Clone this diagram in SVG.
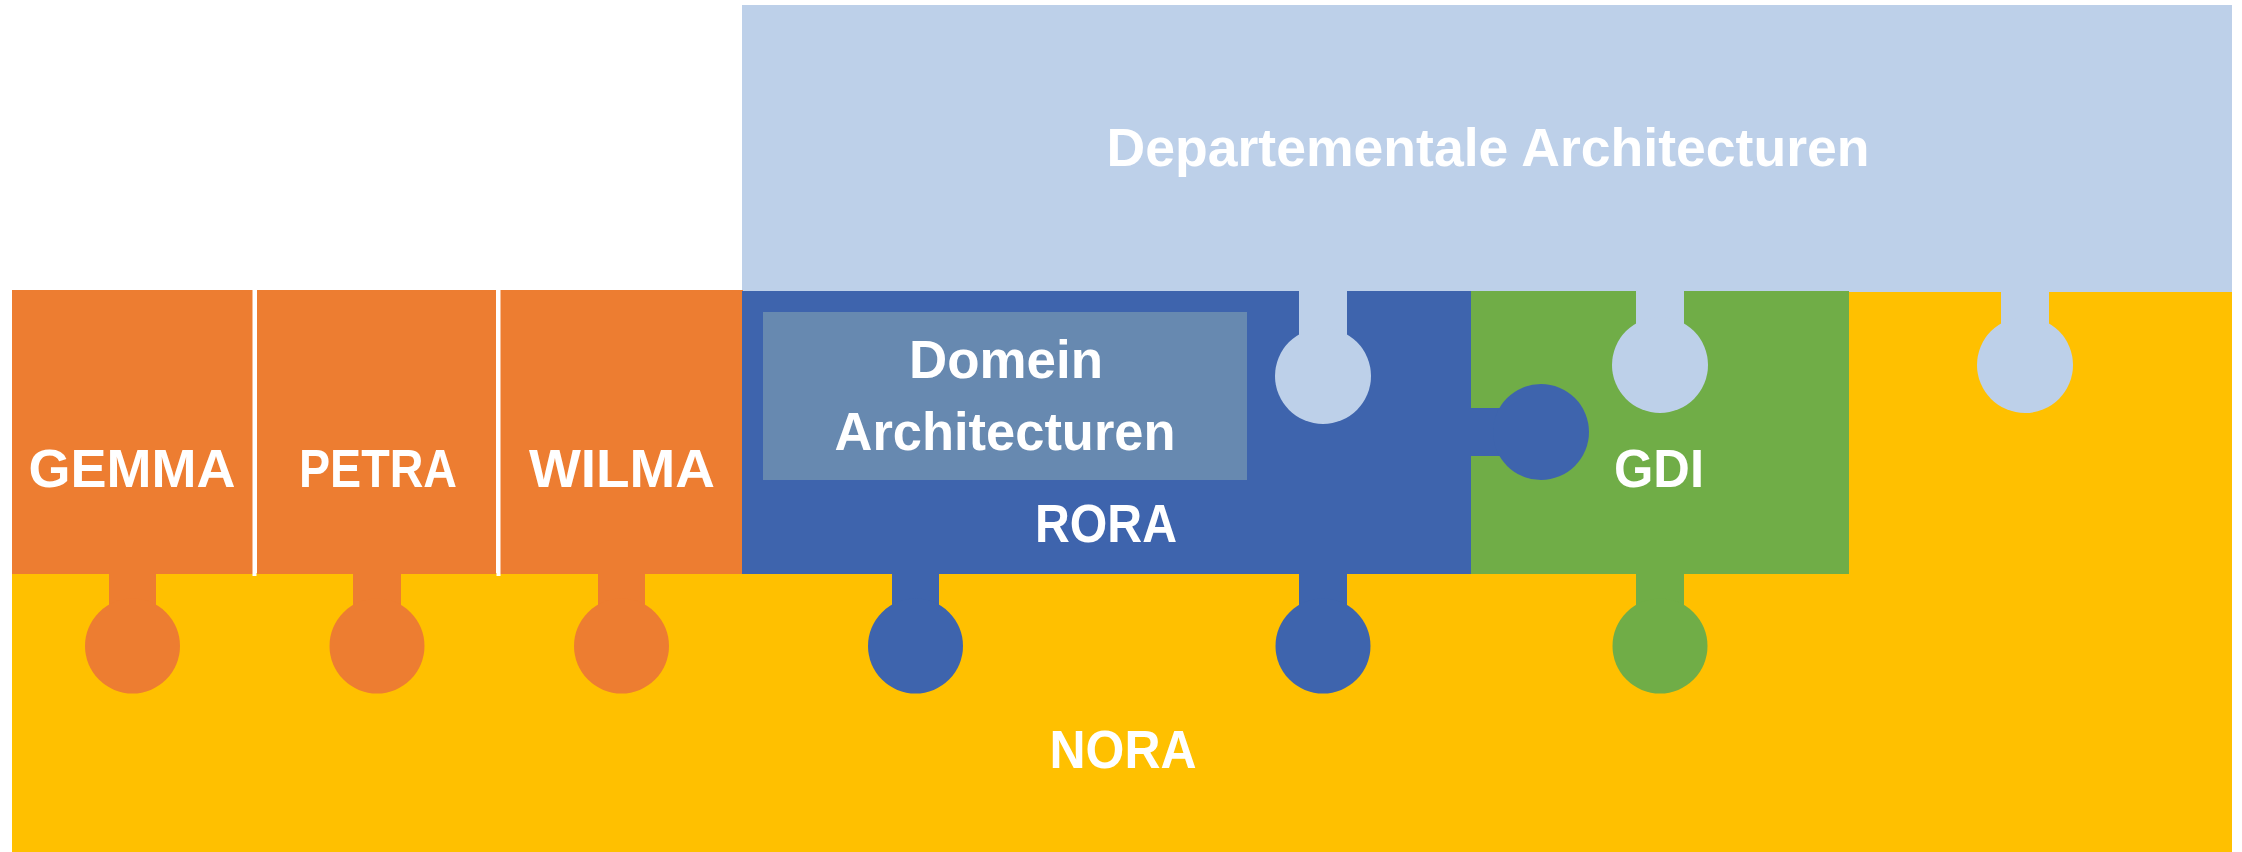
<svg xmlns="http://www.w3.org/2000/svg" width="2242" height="852" viewBox="0 0 2242 852">
<style>
.t{font-family:"Liberation Sans",Arial,sans-serif;font-weight:bold;font-size:53px;fill:#ffffff;text-anchor:middle}
.or{fill:#ED7D31}.bl{fill:#3E64AD}.gr{fill:#70AD47}.ye{fill:#FFC000}.lb{fill:#BDD0E9}.dm{fill:#6789B0}
</style>
<rect width="2242" height="852" fill="#ffffff"/>
<g id="nora">
<path class="ye" d="M12,573 H1849 V291 H2232 V852 H12 Z"/>
<text class="t" x="1123" y="768" textLength="147" lengthAdjust="spacingAndGlyphs">NORA</text>
</g>
<g id="departementale">
<rect class="lb" x="742" y="5" width="1490" height="287"/>
<text class="t" x="1488" y="166" textLength="763" lengthAdjust="spacingAndGlyphs">Departementale Architecturen</text>
</g>
<g id="gemma">
<rect class="or" x="12" y="290" width="242" height="284"/>
<text class="t" x="132" y="487" textLength="207" lengthAdjust="spacingAndGlyphs">GEMMA</text>
</g>
<g id="petra">
<rect class="or" x="257" y="290" width="239" height="284"/>
<text class="t" x="378" y="487" textLength="158" lengthAdjust="spacingAndGlyphs">PETRA</text>
</g>
<g id="wilma">
<rect class="or" x="500" y="290" width="243" height="284"/>
<text class="t" x="622" y="487" textLength="186" lengthAdjust="spacingAndGlyphs">WILMA</text>
</g>
<g id="rora">
<rect class="bl" x="742" y="291" width="729" height="283"/>
<text class="t" x="1106" y="542" textLength="142" lengthAdjust="spacingAndGlyphs">RORA</text>
</g>
<g id="domein">
<rect class="dm" x="763" y="312" width="484" height="168"/>
<text class="t" x="1006" y="378" textLength="194" lengthAdjust="spacingAndGlyphs">Domein</text>
<text class="t" x="1005" y="450" textLength="341" lengthAdjust="spacingAndGlyphs">Architecturen</text>
</g>
<g id="gdi">
<rect class="gr" x="1471" y="291" width="378" height="283"/>
<text class="t" x="1659" y="487" textLength="90" lengthAdjust="spacingAndGlyphs">GDI</text>
</g>
<g id="connectors">
<!-- tabs into NORA -->
<rect class="or" x="109" y="572" width="47" height="40"/><circle class="or" cx="132.5" cy="646" r="47.5"/>
<rect class="or" x="353" y="572" width="48" height="40"/><circle class="or" cx="377" cy="646" r="47.5"/>
<rect class="or" x="598" y="572" width="47" height="40"/><circle class="or" cx="621.5" cy="646" r="47.5"/>
<rect class="bl" x="892" y="572" width="47" height="40"/><circle class="bl" cx="915.5" cy="646" r="47.5"/>
<rect class="bl" x="1299" y="572" width="48" height="40"/><circle class="bl" cx="1323" cy="646" r="47.5"/>
<rect class="gr" x="1636" y="572" width="48" height="40"/><circle class="gr" cx="1660" cy="646" r="47.5"/>
<!-- tabs from Departementale -->
<rect class="lb" x="1299" y="290" width="48" height="50"/><circle class="lb" cx="1323" cy="376" r="48"/>
<rect class="lb" x="1636" y="290" width="48" height="40"/><circle class="lb" cx="1660" cy="365" r="48"/>
<rect class="lb" x="2001" y="290" width="48" height="40"/><circle class="lb" cx="2025" cy="365" r="48"/>
<!-- RORA tab into GDI -->
<rect class="bl" x="1469" y="408" width="40" height="48"/><circle class="bl" cx="1541" cy="432" r="48"/>
<!-- dividers -->
<line x1="254.5" y1="290" x2="254.5" y2="576" stroke="#ffffff" stroke-width="4"/>
<line x1="498.5" y1="290" x2="498.5" y2="576" stroke="#ffffff" stroke-width="4"/>
</g>
</svg>
